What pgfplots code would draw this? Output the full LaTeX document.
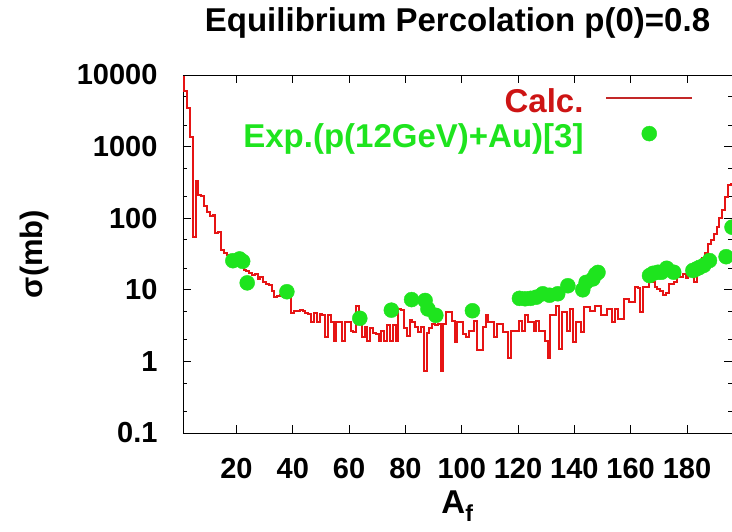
\documentclass[border=0pt]{standalone}
\usepackage{fontspec}
\setmainfont{Liberation Sans}
\usepackage{pgfplots}
\usepackage{pgfplotstable}
\pgfplotsset{compat=1.18}
\definecolor{calcred}{RGB}{230,20,20}
\definecolor{calctext}{RGB}{205,20,20}
\definecolor{legline}{RGB}{195,40,40}
\definecolor{expgreen}{RGB}{30,228,30}
\pgfplotsset{
  linelegend/.style={legend image code/.code={
    \path[draw=none,fill=none] (0pt,0pt) rectangle (86pt,18pt);
    \draw[##1, sharp plot, legline, line width=1.5pt] (0pt,6pt) -- (86pt,6pt);}},
  dotlegend/.style={legend image code/.code={
    \path[draw=none,fill=none] (0pt,0pt) rectangle (86pt,18pt);
    \draw[##1] plot coordinates {(43pt,6pt)};}},
}
\pgfplotstableread{
A v
1 9400
2 6000
3 3500
4 1350
5 54
6 335
7 210
8 205
9 150
10 121
11 109
12 110
13 62
14 64
15 36
16 33
17 31
18 28
19 27
20 25
21 23
22 21
23 19
24 18.5
25 17
26 16
27 16.5
28 14
29 15
30 13
31 12
32 11.5
33 9.7
34 7.9
35 8.2
36 8.5
37 8
38 8.3
39 7.9
40 4.8
41 5
42 5
43 5.2
44 5.1
45 4.8
46 4.6
47 3.5
48 4.7
49 3.6
50 4.6
51 4.5
52 2.2
53 4.5
54 3.6
55 1.9
56 3.6
57 3.5
58 1.9
59 3.6
60 3.5
61 2.7
62 2.6
63 6
64 3.6
65 2.2
66 3
67 1.9
68 2.9
69 2.5
70 2.4
71 1.9
72 2.7
73 1.9
74 3.2
75 1.9
76 3.2
77 1.9
78 5.4
79 5.3
80 2.9
81 2.3
82 3.8
83 3.6
84 3
85 2.6
86 3
87 0.74
88 2.5
89 2.9
90 3.3
91 3.2
92 3.3
93 0.74
94 3.3
95 4.9
96 4.9
97 3.7
98 1.85
99 3.5
100 3.5
101 2.4
102 2.2
103 2.7
104 2.7
105 3.7
106 1.45
107 1.45
108 3
109 4.4
110 3.5
111 3.5
112 2.2
113 3.3
114 3.3
115 2.6
116 2.6
117 1.1
118 2.7
119 2.7
120 2.7
121 3.7
122 2.7
123 4.4
124 3.5
125 3.5
126 2.7
127 3.7
128 2.7
129 2.7
130 1.95
131 1.1
132 4.4
133 4.4
134 6
135 1.5
136 4.9
137 4.9
138 2.7
139 5.4
140 1.85
141 3.5
142 3.5
143 2.6
144 5.7
145 5.7
146 5.1
147 5.1
148 6
149 6
150 4.4
151 4.4
152 5.4
153 5.4
154 3.5
155 5.4
156 3.9
157 3.9
158 7.5
159 7.5
160 6.8
161 6.8
162 10.9
163 10.5
164 4.9
165 10.9
166 10.9
167 12.7
168 12.7
169 11
170 10.4
171 9.5
172 8.5
173 9
174 12
175 12
176 13
177 16.7
178 15
179 16.7
180 14.5
181 16.7
182 16.7
183 12.7
184 21.8
185 23
186 28
187 33
188 44
189 50
190 61
191 75
192 100
193 130
194 200
195 290
196 300
}\calcdata
\pgfplotstableread{
A v
18.7 25.5
21.1 27
22.2 25
23.8 12.5
37.9 9.4
63.8 4.0
75.0 5.2
82.2 7.3
87.0 7.1
88.0 5.4
90.8 4.4
103.8 5.1
120.5 7.6
122.5 7.5
124.5 7.6
126.5 7.9
128.8 8.8
131.2 8.4
134.1 8.8
137.7 11.4
143.0 10.0
144.2 12.7
146.6 14.2
147.6 16.5
148.4 17.5
166.7 15.8
168.0 17.0
169.7 17.6
171.0 17.6
172.8 20.0
175.3 17.6
182.1 18.6
183.3 19.5
184.5 20.6
186.0 22.0
188.0 25.6
193.9 29.0
196.0 75.0
}\expdata
\begin{document}
\begin{tikzpicture}
\begin{axis}[
  at={(0pt,0pt)}, anchor=south west,
  scale only axis, width=549pt, height=358pt,
  ymode=log, xmin=1, xmax=196, ymin=0.1, ymax=10000,
  xtick={20,40,...,180},
  ytick={0.1,1,10,100,1000,10000},
  yticklabels={0.1,1,10,100,1000,10000},
  minor ytick={0.2,0.5,2,5,20,50,200,500,2000,5000},
  xtick pos=both, ytick pos=both,
  tick align=inside, major tick length=8pt, minor tick length=4pt,
  axis line style={line width=0.8pt},
  every tick/.style={black, line width=0.8pt},
  /pgf/number format/assume math mode=true,
  ticklabel style={font=\fontsize{29}{29}\selectfont\bfseries},
  xticklabel style={yshift=-22pt},
  yticklabel style={xshift=-22pt},
  title={Equilibrium Percolation p(0)=0.8},
  title style={at={(axis description cs:0.5,1)}, anchor=base, yshift=38pt,
    font=\fontsize{33}{33}\selectfont\bfseries},
  xlabel={A\textsubscript{f}},
  xlabel style={at={(axis description cs:0.5,-0.225)}, anchor=base,
    font=\fontsize{33}{33}\selectfont\bfseries},
  ylabel={σ(mb)},
  ylabel style={at={(axis description cs:-0.27,0.5)}, anchor=center,
    font=\fontsize{31}{31}\selectfont\bfseries},
  legend plot pos=right,
  legend cell align=right,
  legend style={draw=none, fill=none, inner sep=0pt, outer sep=0pt,
    at={(axis description cs:0.929,0.969)}, anchor=north east,
    font=\fontsize{33}{33}\selectfont\bfseries,
    nodes={inner sep=0pt, text height=24pt, text depth=8pt},
    column sep=22pt, row sep=1.5pt},
]
\addplot[calcred, line width=2pt, const plot mark mid, mark=none, linelegend]
  table[x=A, y=v] {\calcdata};
\addlegendentry{\textcolor{calctext}{Calc.}}
\addplot[only marks, mark=*, mark size=7.5pt, color=expgreen,
  mark options={draw=expgreen, fill=expgreen}, dotlegend]
  table[x=A, y=v] {\expdata};
\addlegendentry{\textcolor{expgreen}{Exp.(p(12GeV)+Au)[3]}}
\end{axis}
\pgfresetboundingbox
\path[use as bounding box] (-183pt,-98pt) rectangle (549pt,433pt);
\end{tikzpicture}
\end{document}
